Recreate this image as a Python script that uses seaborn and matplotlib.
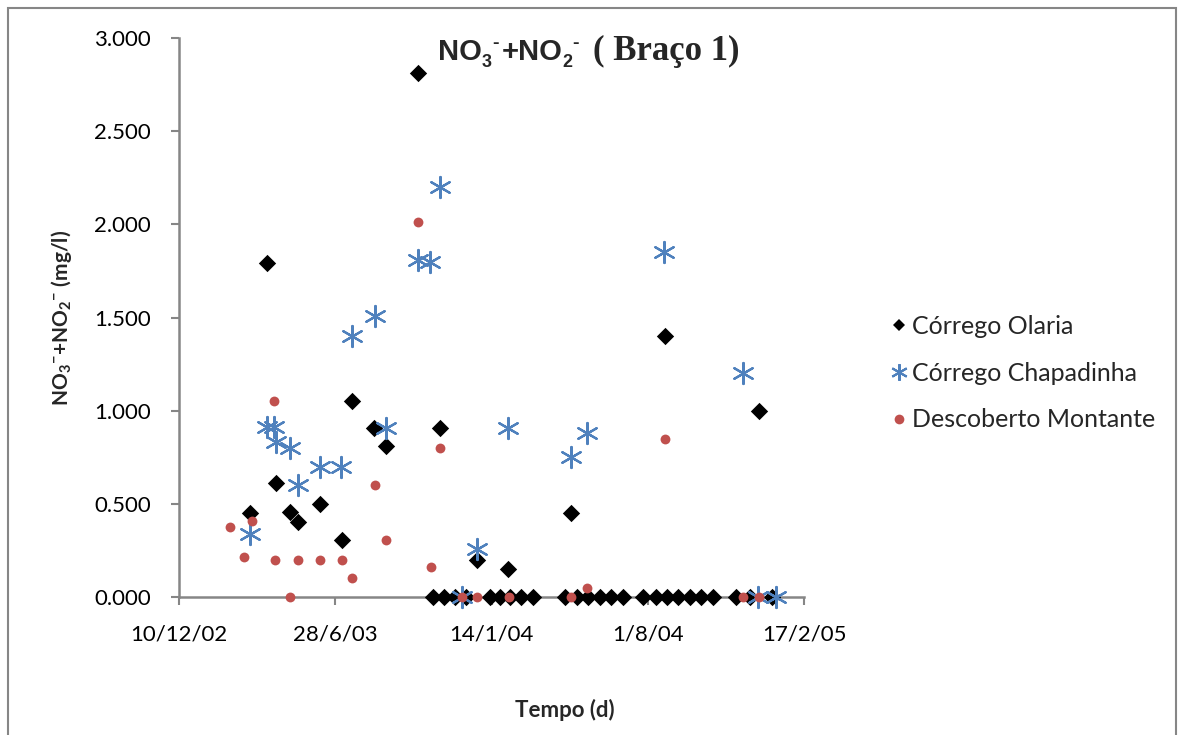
import matplotlib
matplotlib.use("Agg")
import matplotlib.pyplot as plt
from matplotlib import font_manager
from matplotlib.patches import Rectangle
from matplotlib.lines import Line2D
import seaborn as sns
import pandas as pd

# ---------------- data ----------------
olaria_dates = ["2003-03-11", "2003-04-02", "2003-04-13", "2003-05-01", "2003-05-11",
                "2003-06-08", "2003-07-07", "2003-07-19", "2003-08-17", "2003-09-01",
                "2003-10-12", "2003-10-31", "2003-11-09", "2003-11-14", "2003-11-28",
                "2003-12-12", "2003-12-26", "2004-01-12", "2004-01-25", "2004-02-04",
                "2004-02-07", "2004-02-21", "2004-03-07", "2004-04-17", "2004-04-25",
                "2004-05-02", "2004-05-17", "2004-06-01", "2004-06-15", "2004-06-30",
                "2004-07-26", "2004-08-12", "2004-08-23", "2004-08-26", "2004-09-09",
                "2004-09-24", "2004-10-08", "2004-10-24", "2004-11-22", "2004-12-10",
                "2004-12-21", "2005-01-07"]
olaria_values = [0.45, 1.79, 0.61, 0.455, 0.40,
                 0.50, 0.305, 1.05, 0.905, 0.81,
                 2.81, 0.0, 0.905, 0.0, 0.0,
                 0.0, 0.20, 0.0, 0.0, 0.15,
                 0.0, 0.0, 0.0, 0.0, 0.45,
                 0.0, 0.0, 0.0, 0.0, 0.0,
                 0.0, 0.0, 1.40, 0.0, 0.0,
                 0.0, 0.0, 0.0, 0.0, 0.0,
                 1.00, 0.0]

chapadinha_dates = ["2003-03-11", "2003-04-02", "2003-04-10", "2003-04-13", "2003-05-01",
                    "2003-05-11", "2003-06-08", "2003-07-05", "2003-07-19", "2003-08-18",
                    "2003-09-01", "2003-10-12", "2003-10-27", "2003-11-09", "2003-12-07",
                    "2003-12-26", "2004-02-04", "2004-04-25", "2004-05-15", "2004-08-22",
                    "2004-12-01", "2004-12-20", "2005-01-12"]
chapadinha_values = [0.34, 0.91, 0.91, 0.83, 0.80,
                     0.60, 0.70, 0.70, 1.40, 1.51,
                     0.906, 1.81, 1.80, 2.20, 0.0,
                     0.26, 0.906, 0.75, 0.88, 1.85,
                     1.20, 0.0, 0.0]

descoberto_dates = ["2003-02-13", "2003-03-03", "2003-03-13", "2003-04-11", "2003-04-12",
                    "2003-05-01", "2003-05-11", "2003-06-08", "2003-07-07", "2003-07-19",
                    "2003-08-18", "2003-09-01", "2003-10-12", "2003-10-29", "2003-11-09",
                    "2003-12-07", "2003-12-26", "2004-02-05", "2004-04-25", "2004-05-15",
                    "2004-08-23", "2004-12-01", "2004-12-21"]
descoberto_values = [0.375, 0.215, 0.41, 1.05, 0.20,
                     0.0, 0.20, 0.20, 0.20, 0.10,
                     0.60, 0.305, 2.015, 0.16, 0.80,
                     0.0, 0.0, 0.0, 0.0, 0.05,
                     0.85, 0.0, 0.0]

series_names = ["Córrego Olaria", "Córrego Chapadinha", "Descoberto Montante"]
x_ticks = ["2002-12-10", "2003-06-28", "2004-01-14", "2004-08-01", "2005-02-17"]
y_ticks = [0.0, 0.5, 1.0, 1.5, 2.0, 2.5, 3.0]

# ---------------- style ----------------
sns.set_theme(style="white")
plt.rcParams["font.family"] = ["Lato", "DejaVu Sans"]
plt.rcParams["mathtext.fontset"] = "custom"
plt.rcParams["mathtext.rm"] = "Lato"
plt.rcParams["mathtext.bf"] = "Lato:bold"

AX_GRAY = "#868686"
BLUE = "#4F81BD"
RED = "#C0504D"

W, H = 1178, 735
fig = plt.figure(figsize=(W / 100, H / 100), dpi=100)
ax = fig.add_axes([179 / W, 1 - 597 / H, (804 - 179) / W, (597 - 38) / H])

df_o = pd.DataFrame({"date": pd.to_datetime(olaria_dates), "value": olaria_values})
df_c = pd.DataFrame({"date": pd.to_datetime(chapadinha_dates), "value": chapadinha_values})
df_d = pd.DataFrame({"date": pd.to_datetime(descoberto_dates), "value": descoberto_values})

ast = (6, 2, 0)
sns.scatterplot(data=df_o, x="date", y="value", ax=ax, marker="D", s=78,
                color="black", edgecolor="black", linewidth=0, zorder=3, clip_on=False)
sns.scatterplot(data=df_c, x="date", y="value", ax=ax, marker=ast, s=230,
                color=BLUE, edgecolor=BLUE, linewidth=1.6, zorder=4, clip_on=False)
sns.scatterplot(data=df_d, x="date", y="value", ax=ax, marker="o", s=50,
                color=RED, edgecolor=RED, linewidth=0, zorder=5, clip_on=False)

xt = pd.to_datetime(x_ticks)
ax.set_xlim(xt[0], xt[-1])
ax.set_ylim(0, 3.0)
ax.set_xticks(xt)
ax.set_xticklabels([f"{d.day}/{d.month}/{d.strftime('%y')}" for d in xt])
ax.set_yticks(y_ticks)
ax.set_yticklabels([f"{v:.3f}" for v in y_ticks])

for side in ["top", "right"]:
    ax.spines[side].set_visible(False)
for side in ["left", "bottom"]:
    ax.spines[side].set_color(AX_GRAY)
    ax.spines[side].set_linewidth(1.8)
ax.tick_params(axis="both", which="major", direction="out", length=6, width=1.5,
               color=AX_GRAY, labelsize=16, labelcolor="black", left=True, bottom=True)
ax.tick_params(axis="y", pad=14)
ax.tick_params(axis="x", pad=14)
ax.grid(False)

ax.set_xlabel("Tempo (d)", fontsize=16, fontweight="bold")
ax.xaxis.set_label_coords((565 - 179) / 625, -0.182)
ax.set_ylabel(r"$\mathbf{NO_3{}^{-}{+}NO_2{}^{-}}$ (mg/l)", fontsize=15, fontweight="bold")
ax.yaxis.set_label_coords(-0.168, 0.5)

# title: built from pieces (NO, sub 3, sup -, +NO, sub 2, sup -)
installed = {f.name for f in font_manager.fontManager.ttflist}
if "Liberation Sans Narrow" in installed:
    sans_family, big, small, sup = ["Liberation Sans Narrow"], 26, 16, 17
else:
    sans_family, big, small, sup = ["Liberation Sans"], 21, 13, 14
renderer = fig.canvas.get_renderer()
title_pieces = [("NO", big, 0, 0), ("3", small, -7, 0), ("-", sup, 12, 3), ("+NO", big, 0, 0),
                ("2", small, -7, 0), ("-", sup, 12, 0)]
x_px, base_px = 438.0, H - 60.0
for txt, size, dy, gap in title_pieces:
    t = fig.text(x_px / W, (base_px + dy) / H, txt, fontsize=size, fontweight="bold",
                 family=sans_family, ha="left", va="baseline")
    bb = t.get_window_extent(renderer=renderer)
    x_px = bb.x1 + gap
fig.text(max(593.0, x_px + 12) / W, base_px / H, "( Braço 1)", fontsize=25, fontweight="bold",
         family=["Liberation Serif"], ha="left", va="baseline")

# legend
handles = [
    Line2D([], [], linestyle="none", marker="D", markersize=6.6, color="black", markeredgewidth=0),
    Line2D([], [], linestyle="none", marker=ast, markersize=12, color=BLUE, markeredgewidth=1.5),
    Line2D([], [], linestyle="none", marker="o", markersize=7, color=RED, markeredgewidth=0),
]
fig.legend(handles, series_names, loc="center left", bbox_to_anchor=(891 / W, 1 - 373 / H),
           frameon=False, fontsize=18, handlelength=0.6, handletextpad=0.25,
           labelspacing=0.95, borderpad=0, borderaxespad=0)

# chart border
fig.add_artist(Rectangle((8 / W, -0.05), (1176 - 8) / W, 1.05 - 8 / H, transform=fig.transFigure,
                         fill=False, edgecolor=AX_GRAY, linewidth=1.5))

fig.savefig("out.png", dpi=100)
